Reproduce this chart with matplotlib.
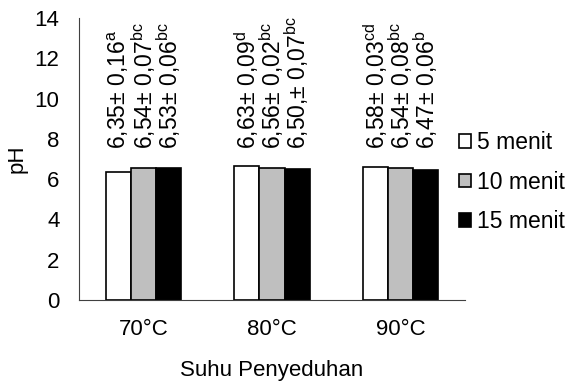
import matplotlib.pyplot as plt
import numpy as np
from matplotlib.patches import Patch

plt.rcParams["font.family"] = ["Liberation Sans", "DejaVu Sans"]
plt.rcParams["mathtext.fontset"] = "custom"
plt.rcParams["mathtext.rm"] = "Liberation Sans"
plt.rcParams["mathtext.it"] = "Liberation Sans"

categories = ["70°C", "80°C", "90°C"]
series = ["5 menit", "10 menit", "15 menit"]
colors = ["white", "#bfbfbf", "black"]
values = [
    [6.35, 6.63, 6.58],
    [6.54, 6.56, 6.54],
    [6.53, 6.50, 6.47],
]
labels = [
    ["6,35± 0,16", "6,63± 0,09", "6,58± 0,03"],
    ["6,54± 0,07", "6,56± 0,02", "6,54± 0,08"],
    ["6,53± 0,06", "6,50,± 0,07", "6,47± 0,06"],
]
letters = [
    ["a", "d", "cd"],
    ["bc", "bc", "bc"],
    ["bc", "bc", "b"],
]
label_y = 7.5

fig = plt.figure(figsize=(5.72, 3.92), dpi=100)
ax = fig.add_axes([0.138, 0.235, 0.675, 0.719])

x = np.arange(len(categories))
width = 0.195
for i, name in enumerate(series):
    pos = x + (i - 1) * width
    ax.bar(pos, values[i], width, color=colors[i], edgecolor="black",
           linewidth=1.2, label=name)
    for j in range(len(categories)):
        ax.text(pos[j], label_y,
                labels[i][j] + "$^{\\mathrm{" + letters[i][j] + "}}$",
                rotation=90, ha="center", va="bottom", fontsize=16.5)

ax.set_xlim(-0.5, 2.5)
ax.set_ylim(0, 14)
ax.set_yticks(range(0, 15, 2))
ax.set_xticks(x)
ax.set_xticklabels(categories)
ax.tick_params(axis="both", length=0, labelsize=16)
ax.tick_params(axis="x", pad=14)
ax.tick_params(axis="y", pad=14)
for side in ["top", "right"]:
    ax.spines[side].set_visible(False)
ax.spines["left"].set_color("#404040")
ax.spines["bottom"].set_color("#404040")

ax.set_ylabel("pH", fontsize=16, labelpad=5)
ax.set_xlabel("Suhu Penyeduhan", fontsize=16, labelpad=14)

handles = [Patch(facecolor=c, edgecolor="black", linewidth=1.2) for c in colors]
ax.legend(handles, series, loc="center left", bbox_to_anchor=(0.984, 0.418),
          frameon=False, fontsize=16.5, handlelength=0.55, handleheight=0.55,
          handletextpad=0.25, labelspacing=0.72, borderpad=0, borderaxespad=0)

fig.savefig("out.png", dpi=100)
